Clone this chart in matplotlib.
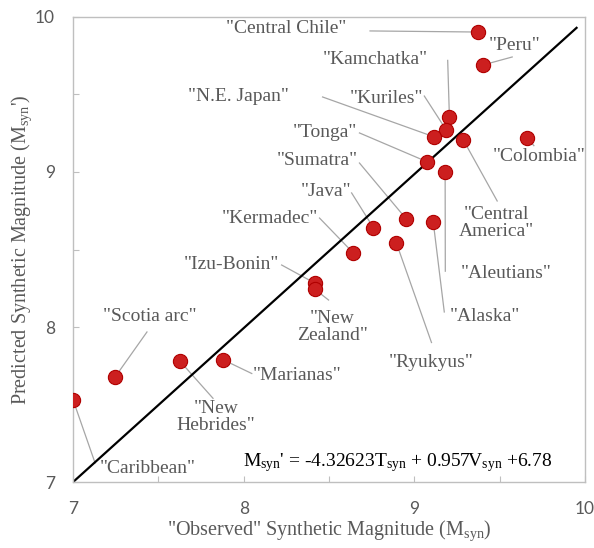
import matplotlib
matplotlib.use('Agg')
import matplotlib.pyplot as plt
from matplotlib.ticker import MultipleLocator, FuncFormatter

plt.rcParams['mathtext.fontset'] = 'custom'
plt.rcParams['mathtext.rm'] = 'Liberation Serif'
plt.rcParams['mathtext.it'] = 'Liberation Serif:italic'

# regions, observed vs predicted synthetic magnitude
regions = ['Central Chile', 'Peru', 'Kamchatka', 'Kuriles', 'N.E. Japan', 'Central\nAmerica',
           'Colombia', 'Tonga', 'Aleutians', 'Sumatra', 'Alaska', 'Java', 'Ryukyus', 'Kermadec',
           'Izu-Bonin', 'New\nZealand', 'Scotia arc', 'New\nHebrides', 'Marianas', 'Caribbean']
observed = [9.37, 9.40, 9.205, 9.187, 9.117, 9.287, 9.66, 9.076, 9.18, 8.95, 9.11, 8.76, 8.895,
            8.64, 8.415, 8.415, 7.246, 7.626, 7.877, 7.0]
predicted = [9.903, 9.69, 9.355, 9.27, 9.226, 9.206, 9.22, 9.065, 9.0, 8.70, 8.68, 8.64, 8.54,
             8.48, 8.284, 8.245, 7.677, 7.78, 7.79, 7.53]

# 1:1 line
fit_x = [7.0, 9.95]
fit_y = [7.0, 9.93]

# label layout: text centre, start of leader line
label_pos = {
    'Central Chile': ((8.25, 9.923), (8.74, 9.91)),
    'Peru': ((9.585, 9.819), (9.573, 9.742)),
    'Kamchatka': ((8.772, 9.723), (9.195, 9.72)),
    'Kuriles': ((8.836, 9.477), (9.058, 9.49)),
    'N.E. Japan': ((7.971, 9.484), (8.462, 9.484)),
    'Central\nAmerica': ((9.48, 8.671), (9.485, 8.813)),
    'Colombia': ((9.731, 9.097), (9.70, 9.17)),
    'Tonga': ((8.474, 9.252), (8.678, 9.252)),
    'Aleutians': ((9.538, 8.348), (9.181, 8.36)),
    'Sumatra': ((8.433, 9.071), (8.678, 9.058)),
    'Alaska': ((9.415, 8.071), (9.175, 8.097)),
    'Java': ((8.48, 8.877), (8.632, 8.865)),
    'Ryukyus': ((9.099, 7.774), (9.10, 7.90)),
    'Kermadec': ((8.152, 8.703), (8.444, 8.703)),
    'Izu-Bonin': ((7.93, 8.406), (8.222, 8.40)),
    'New\nZealand': ((8.52, 8.0), (8.497, 8.174)),
    'Scotia arc': ((7.45, 8.071), (7.433, 7.968)),
    'New\nHebrides': ((7.836, 7.419), (7.82, 7.54)),
    'Marianas': ((8.316, 7.69), (8.047, 7.70)),
    'Caribbean': ((7.439, 7.09), (7.129, 7.123)),
}

grey = '#595959'
fig = plt.figure(figsize=(5.94, 5.48), dpi=100)
ax = fig.add_axes([0.123, 0.1204, 0.862, 0.8486])

ax.plot(fit_x, fit_y, color='black', lw=1.6, zorder=2)

for name, x, y in zip(regions, observed, predicted):
    (tx, ty), (lx, ly) = label_pos[name]
    ax.plot([lx, x], [ly, y], color='#a6a6a6', lw=0.9, zorder=1)
    ax.text(tx, ty, '"%s"' % name, ha='center', va='center', fontsize=14,
            family='Liberation Serif', color=grey, linespacing=0.95, zorder=4)

ax.scatter(observed, predicted, s=105, color='#cc1f1f', edgecolor='#b00000', lw=0.8, zorder=3)

ax.text(9.807, 7.123, r"M$_{\rm syn}$' = -4.32623T$_{\rm syn}$ + 0.957V$_{\rm syn}$ +6.78",
        ha='right', va='center', fontsize=14, family='Liberation Serif', color='black')

ax.set_xlim(7, 10)
ax.set_ylim(7, 10)
for axis in (ax.xaxis, ax.yaxis):
    axis.set_major_locator(MultipleLocator(0.5))
    axis.set_major_formatter(FuncFormatter(lambda v, p: '%d' % v if abs(v - round(v)) < 1e-6 else ''))
ax.tick_params(direction='in', length=4, color='#bfbfbf', labelcolor=grey, labelsize=12.5)
ax.tick_params(axis='x', pad=14)
ax.tick_params(axis='y', pad=13)
for lab in ax.get_xticklabels() + ax.get_yticklabels():
    lab.set_family('Lato')
for s in ax.spines.values():
    s.set_color('#bfbfbf')
    s.set_linewidth(1.0)

ax.set_xlabel(r'"Observed" Synthetic Magnitude (M$_{\rm syn}$)', family='Liberation Serif',
              fontsize=14.5, color=grey, labelpad=1)
ax.set_ylabel(r"Predicted Synthetic Magnitude (M$_{\rm syn}$')", family='Liberation Serif',
              fontsize=14.5, color=grey, labelpad=1)

fig.savefig('out.png', dpi=100)
